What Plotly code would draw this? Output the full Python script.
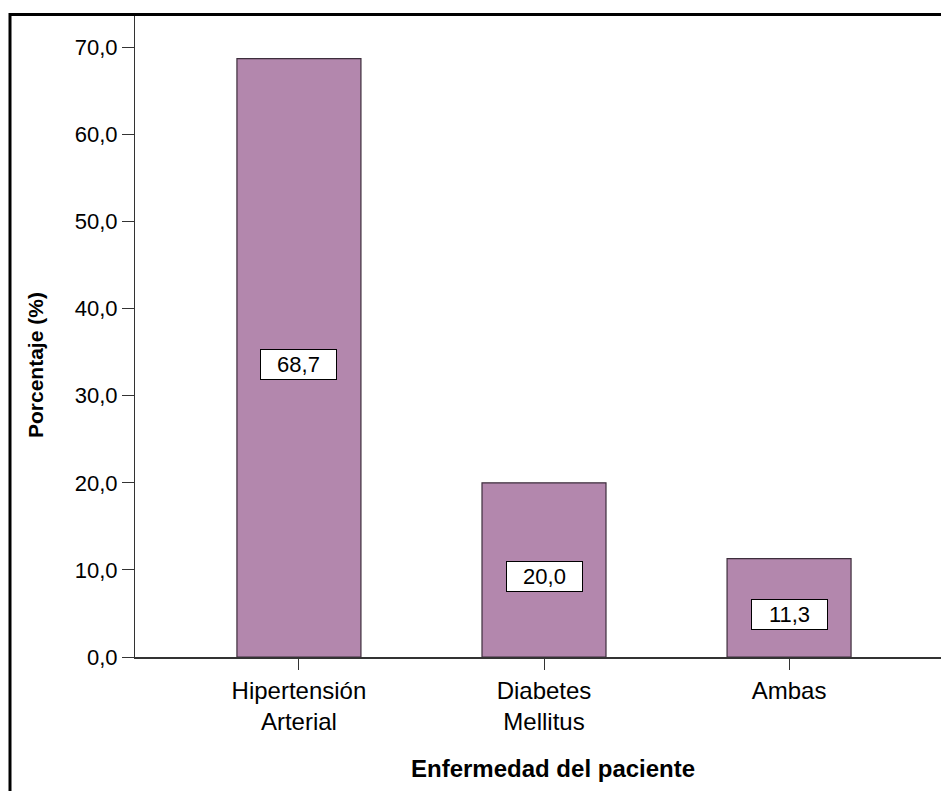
import plotly.graph_objects as go

categories = ["Hipertensión<br>Arterial", "Diabetes<br>Mellitus", "Ambas"]
values = [68.7, 20.0, 11.3]
value_labels = ["68,7", "20,0", "11,3"]
y_ticks = [0, 10, 20, 30, 40, 50, 60, 70]
y_tick_text = ["0,0", "10,0", "20,0", "30,0", "40,0", "50,0", "60,0", "70,0"]

FONT = "Liberation Sans, Arial, sans-serif"

# pixel geometry of the plotting area inside the 941x791 page
L, R, T, B = 135, 941, 16, 657
W, H = R - L, B - T


def px_x(x):
    return (x - L) / W


def px_y(y):
    return (B - y) / H


x_pos = list(range(len(categories)))

fig = go.Figure()
fig.add_trace(go.Bar(
    x=x_pos, y=values, width=0.506,
    marker=dict(color="#B387AD", line=dict(color="#3D2E3C", width=1.2)),
    hoverinfo="skip",
))

# white boxed value labels in the middle of each bar
for xi, v, lab in zip(x_pos, values, value_labels):
    fig.add_annotation(
        x=xi, y=v / 2, text=lab, showarrow=False, yshift=-6.5,
        font=dict(family=FONT, size=22, color="black"),
        bgcolor="white", bordercolor="black", borderwidth=1,
        width=73, height=27, xref="x", yref="y",
    )

# axis titles
fig.add_annotation(
    x=px_x(553), y=px_y(768), xref="paper", yref="paper",
    xanchor="center", yanchor="middle",
    text="<b>Enfermedad del paciente</b>", showarrow=False,
    font=dict(family=FONT, size=24, color="black"),
)
fig.add_annotation(
    x=px_x(35), y=px_y(365), xref="paper", yref="paper",
    xanchor="center", yanchor="middle",
    text="<b>Porcentaje (%)</b>", showarrow=False, textangle=-90,
    font=dict(family=FONT, size=21, color="black"),
)

# outer frame on left and top
fig.add_shape(type="line", xref="paper", yref="paper",
              x0=px_x(10), x1=px_x(945), y0=px_y(14.5), y1=px_y(14.5),
              line=dict(color="black", width=3))
fig.add_shape(type="line", xref="paper", yref="paper",
              x0=px_x(10), x1=px_x(10), y0=px_y(13), y1=px_y(800),
              line=dict(color="black", width=3))

fig.update_layout(
    width=941, height=791,
    margin=dict(l=L, r=941 - R, t=T, b=791 - B),
    paper_bgcolor="white", plot_bgcolor="white",
    showlegend=False,
    font=dict(family=FONT, size=22, color="black"),
    xaxis=dict(
        range=[-0.669, 2.62], tickvals=x_pos, ticktext=categories,
        showline=True, linecolor="#333333", linewidth=1.5,
        ticks="outside", ticklen=11, tickcolor="#333333",
        showgrid=False, zeroline=False,
        tickfont=dict(family=FONT, size=24, color="black"),
    ),
    yaxis=dict(
        range=[0, 73.6], tickvals=y_ticks, ticktext=y_tick_text,
        showline=True, linecolor="#333333", linewidth=1.2,
        ticks="outside", ticklen=12, tickcolor="#333333",
        showgrid=False, zeroline=False,
        tickfont=dict(family=FONT, size=22, color="black"),
    ),
)

fig.write_html("out.html")
